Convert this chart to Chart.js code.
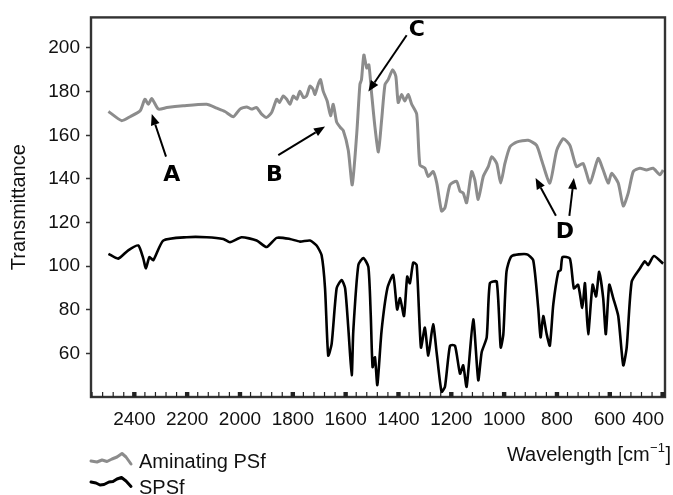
<!DOCTYPE html>
<html>
<head>
<meta charset="utf-8">
<script src="https://cdn.jsdelivr.net/npm/chart.js@4.4.1/dist/chart.umd.min.js"></script>
<style>
  html, body { margin: 0; padding: 0; background: #fff; }
</style>
</head>
<body>
<canvas id="ftir" width="673" height="495"></canvas>
<script>
// FTIR spectra: wavenumber [cm-1] and transmittance
const aminWave = [2498, 2448, 2416, 2378, 2360, 2347, 2334, 2309, 2277, 2215,
                  2126, 2088, 2057, 2025, 2000, 1975, 1956, 1937, 1918, 1899,
                  1880, 1861, 1851, 1836, 1823, 1811, 1798, 1785, 1773, 1760,
                  1748, 1735, 1723, 1716, 1704, 1695, 1685, 1670, 1657, 1647,
                  1634, 1621, 1609, 1590, 1575, 1558, 1546, 1540, 1531, 1520,
                  1512, 1502, 1489, 1476, 1464, 1451, 1439, 1422, 1410, 1401,
                  1388, 1376, 1363, 1350, 1331, 1319, 1300, 1287, 1269, 1255,
                  1237, 1224, 1205, 1180, 1167, 1155, 1142, 1123, 1111, 1098,
                  1079, 1060, 1047, 1028, 1013, 997, 978, 953, 909, 877,
                  858, 827, 801, 776, 751, 726, 701, 675, 644, 625,
                  606, 593, 568, 549, 530, 511, 486, 461, 436, 410,
                  398];
const aminTrans = [170.9, 166.7, 168.5, 171.2, 176.5, 174.2, 176.8, 172.0, 172.7, 173.5,
                   174.2, 172.4, 170.9, 168.5, 172.0, 173.0, 172.0, 172.7, 169.7, 168.2,
                   170.5, 176.5, 175.0, 178.0, 176.5, 174.2, 178.0, 176.5, 180.2, 177.3,
                   178.0, 182.5, 181.0, 178.7, 183.3, 185.5, 180.2, 175.7, 169.0, 174.2,
                   166.0, 163.7, 162.2, 153.1, 137.3, 160.7, 183.3, 185.5, 196.8, 190.8,
                   192.3, 179.5, 163.7, 152.4, 166.7, 183.3, 185.5, 190.0, 187.0, 175.0,
                   178.7, 175.7, 178.7, 174.2, 169.7, 146.4, 144.9, 141.1, 143.4, 138.1,
                   125.3, 126.8, 137.3, 138.9, 134.4, 133.6, 129.1, 143.4, 139.6, 130.6,
                   141.1, 145.6, 150.2, 147.1, 138.1, 147.1, 154.7, 156.9, 157.7, 155.4,
                   148.6, 138.1, 153.1, 158.4, 155.4, 145.6, 147.1, 138.1, 149.4, 144.1,
                   138.1, 142.6, 138.1, 127.6, 133.6, 143.4, 144.9, 144.1, 144.9, 141.9,
                   144.1];

const spsfWave = [2498, 2461, 2423, 2385, 2366, 2356, 2343, 2328, 2290, 2202,
                  2126, 2063, 2038, 1994, 1937, 1899, 1861, 1811, 1773, 1735,
                  1710, 1691, 1678, 1666, 1653, 1634, 1615, 1602, 1590, 1577,
                  1571, 1552, 1533, 1514, 1505, 1498, 1489, 1480, 1464, 1442,
                  1420, 1405, 1394, 1379, 1367, 1357, 1344, 1331, 1315, 1300,
                  1287, 1269, 1255, 1237, 1224, 1205, 1186, 1167, 1155, 1142,
                  1117, 1098, 1085, 1066, 1054, 1028, 1013, 1003, 991, 972,
                  915, 890, 871, 862, 852, 839, 827, 814, 795, 786,
                  779, 751, 736, 720, 704, 694, 682, 665, 652, 640,
                  625, 615, 602, 587, 568, 549, 536, 517, 486, 467,
                  455, 433, 398];
const spsfTrans = [105.7, 103.5, 107.3, 109.5, 103.5, 99.0, 104.2, 102.8, 111.8, 113.3,
                   113.3, 112.5, 111.0, 113.3, 111.8, 108.8, 113.0, 112.5, 111.3, 111.8,
                   109.5, 105.0, 89.9, 59.1, 64.4, 89.9, 93.7, 89.9, 71.9, 50.1,
                   70.4, 100.5, 103.8, 99.7, 77.9, 53.8, 58.3, 45.6, 70.4, 89.9,
                   96.0, 80.2, 85.4, 77.2, 95.2, 92.2, 101.7, 100.5, 62.8, 71.9,
                   59.1, 73.4, 59.9, 42.5, 44.8, 63.6, 63.6, 50.8, 54.6, 44.8,
                   75.7, 47.8, 60.6, 67.4, 92.2, 93.0, 62.8, 68.9, 97.5, 104.6,
                   105.5, 102.8, 80.9, 67.4, 77.2, 68.9, 63.6, 82.4, 97.5, 98.2,
                   104.2, 103.5, 89.9, 91.5, 80.9, 92.2, 68.9, 91.5, 86.2, 97.5,
                   85.4, 68.9, 91.5, 85.4, 77.2, 54.6, 62.8, 93.0, 99.0, 102.3,
                   100.5, 104.7, 101.2];

const xTickValues = [2400, 2200, 2000, 1800, 1600, 1400, 1200, 1000, 800, 600, 400];
const seriesNames = ['Aminating PSf', 'SPSf'];

// peak markers: letter position and arrows (tail -> tip), in data units
const peakMarks = [
  { text: 'A', at: [2258, 141.9], arrows: [[2280, 150.2, 2334, 169.7]] },
  { text: 'B', at: [1870, 141.9], arrows: [[1855, 150.9, 1678, 164.0]] },
  { text: 'C', at: [1331, 208.1], arrows: [[1369, 205.8, 1514, 180.0]] },
  { text: 'D', at: [770, 115.5], arrows: [[804, 123.1, 881, 140.4], [753, 123.1, 736, 140.4]] }
];

const FONT = '"Liberation Sans", Arial, sans-serif';

function toPoints(xs, ys) {
  return xs.map((x, i) => ({ x: x, y: ys[i] }));
}

function drawArrow(ctx, x0, y0, x1, y1) {
  const ang = Math.atan2(y1 - y0, x1 - x0);
  const head = 11, half = 4.5;
  const bx = x1 - head * Math.cos(ang), by = y1 - head * Math.sin(ang);
  ctx.beginPath();
  ctx.moveTo(x0, y0);
  ctx.lineTo(bx, by);
  ctx.stroke();
  ctx.beginPath();
  ctx.moveTo(x1, y1);
  ctx.lineTo(bx + half * Math.sin(ang), by - half * Math.cos(ang));
  ctx.lineTo(bx - half * Math.sin(ang), by + half * Math.cos(ang));
  ctx.closePath();
  ctx.fill();
}

// frame, inside ticks on the bottom axis, labels, peak markers and legend
const extras = {
  id: 'extras',
  afterDraw(chart) {
    const { ctx, chartArea: a } = chart;
    const x = chart.scales.x, y = chart.scales.y;
    ctx.save();

    ctx.strokeStyle = '#333';
    ctx.lineWidth = 2.4;
    ctx.strokeRect(a.left, a.top, a.right - a.left, a.bottom - a.top);

    ctx.fillStyle = '#222';
    for (let v = 2560; v >= 400; v -= 40) {
      const px = x.getPixelForValue(v);
      if (v % 200 === 0) ctx.fillRect(px - 2.2, a.bottom - 5, 4.4, 5);
      else ctx.fillRect(px - 0.6, a.bottom - 5, 1.2, 5);
    }

    ctx.font = '19px ' + FONT;
    ctx.textAlign = 'center';
    ctx.textBaseline = 'alphabetic';
    ctx.fillStyle = '#111';
    xTickValues.forEach(v => {
      const s = String(v);
      const w = ctx.measureText(s).width;
      const px = Math.min(x.getPixelForValue(v), a.right - 1 - w / 2);
      ctx.fillText(s, px, a.bottom + 27.5);
    });

    // axis title with superscript
    ctx.textAlign = 'left';
    ctx.font = '20px ' + FONT;
    const t1 = 'Wavelength [cm', t3 = ']';
    const w1 = ctx.measureText(t1).width, w3 = ctx.measureText(t3).width;
    ctx.font = '13px ' + FONT;
    const t2 = '\u22121';
    const w2 = ctx.measureText(t2).width;
    const tx = a.right + 5 - w1 - w2 - w3;
    const base = a.bottom + 63.5;
    ctx.font = '20px ' + FONT;
    ctx.fillText(t1, tx, base);
    ctx.font = '13px ' + FONT;
    ctx.fillText(t2, tx + w1 + 0.5, base - 9);
    ctx.font = '20px ' + FONT;
    ctx.fillText(t3, tx + w1 + w2 + 1, base);

    // peak markers
    ctx.strokeStyle = '#000';
    ctx.fillStyle = '#000';
    ctx.lineWidth = 2;
    ctx.font = 'bold 22px "DejaVu Sans", Verdana, sans-serif';
    ctx.textAlign = 'center';
    ctx.textBaseline = 'middle';
    peakMarks.forEach(m => {
      ctx.fillText(m.text, x.getPixelForValue(m.at[0]), y.getPixelForValue(m.at[1]));
      m.arrows.forEach(r => drawArrow(ctx,
        x.getPixelForValue(r[0]), y.getPixelForValue(r[1]),
        x.getPixelForValue(r[2]), y.getPixelForValue(r[3])));
    });

    // legend with wavy swatches
    const waves = [
      [[0, 0], [6, 1], [11, -1], [16, 0.5], [21, -2], [26, -4], [31, -7.5], [35, -4], [40, 3]],
      [[0, 0], [5, 1], [9, 3], [13, 2.5], [18, 0], [22, -0.5], [26, -3], [30.5, -4.5], [35, -1], [40, 4.5]]
    ];
    const rows = [a.bottom + 64, a.bottom + 85];
    const textBase = [a.bottom + 70.7, a.bottom + 96.7];
    chart.data.datasets.forEach((ds, i) => {
      ctx.strokeStyle = ds.borderColor;
      ctx.lineWidth = 3;
      ctx.lineJoin = 'round';
      ctx.lineCap = 'round';
      ctx.beginPath();
      waves[i].forEach((p, k) => {
        const px = a.left + p[0], py = rows[i] + p[1];
        if (k === 0) ctx.moveTo(px, py); else ctx.lineTo(px, py);
      });
      ctx.stroke();
      ctx.fillStyle = '#111';
      ctx.font = '20px ' + FONT;
      ctx.textAlign = 'left';
      ctx.textBaseline = 'alphabetic';
      ctx.fillText(ds.label, a.left + 48, textBase[i]);
    });

    ctx.restore();
  }
};

const ctx = document.getElementById('ftir').getContext('2d');
new Chart(ctx, {
  type: 'line',
  data: {
    datasets: [{
      label: seriesNames[0],
      data: toPoints(aminWave, aminTrans),
      borderColor: '#8c8c8c',
      borderWidth: 3,
      borderJoinStyle: 'round',
      pointRadius: 0,
      tension: 0.2
    }, {
      label: seriesNames[1],
      data: toPoints(spsfWave, spsfTrans),
      borderColor: '#000000',
      borderWidth: 2.6,
      borderJoinStyle: 'round',
      pointRadius: 0,
      tension: 0.2
    }]
  },
  options: {
    responsive: false,
    animation: false,
    layout: { padding: { top: 12, right: 8, left: 0, bottom: 0 } },
    plugins: { legend: { display: false }, tooltip: { enabled: false } },
    scales: {
      x: {
        type: 'linear',
        reverse: true,
        min: 391,
        max: 2564,
        grid: { display: false, drawTicks: false },
        border: { display: false },
        ticks: { display: false },
        afterFit(s) { s.height = 98; }
      },
      y: {
        min: 40.1,
        max: 214,
        grid: { drawOnChartArea: false, drawTicks: true, tickLength: 5, tickColor: '#333', tickWidth: 1.5 },
        border: { display: false },
        ticks: {
          stepSize: 20,
          includeBounds: false,
          padding: 6,
          color: '#111',
          font: { family: FONT, size: 19 }
        },
        title: {
          display: true,
          text: 'Transmittance',
          color: '#111',
          font: { family: FONT, size: 20 },
          padding: { top: 7, bottom: 0 }
        },
        afterFit(s) { s.width = 91; }
      }
    }
  },
  plugins: [extras]
});
</script>
</body>
</html>
